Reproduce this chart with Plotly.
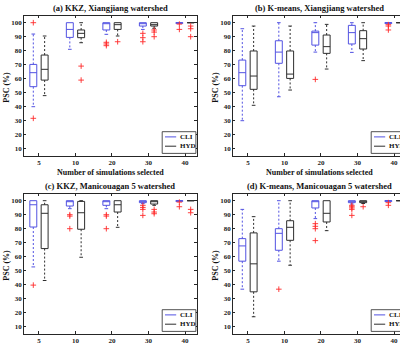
import plotly.graph_objects as go

# ---------------- data ----------------
groups = ["5", "10", "20", "30", "40"]
series_names = ["CLI", "HYD"]
titles = ["(a) KKZ, Xiangjiang watershed", "(b) K-means, Xiangjiang watershed",
          "(c) KKZ, Manicouagan 5 watershed", "(d) K-means, Manicouagan 5 watershed"]
x_title = "Number of simulations selected"
y_title = "PSC (%)"
y_ticks = [10, 20, 30, 40, 50, 60, 70, 80, 90, 100]

# Panel (a)
a_cli_lo = [40.0, 81.0, 91.7, 95.2, 99.5]
a_cli_q1 = [54.3, 89.5, 94.8, 97.6, 99.5]
a_cli_med = [64.3, 95.2, 100, 100, 100]
a_cli_q3 = [70.2, 100, 100, 100, 100]
a_cli_hi = [91.9, 100, 100, 100, 100]
a_cli_out = [[31.7, 100], [], [86.0, 84.8, 83.6], [92.4, 89.3, 86.4], [99.0, 95.2]]
a_hyd_lo = [47.9, 85.7, 90.5, 96.0, 100]
a_hyd_q1 = [59.0, 89.3, 95.2, 97.6, 100]
a_hyd_med = [66.7, 92.4, 98.6, 98.6, 100]
a_hyd_q3 = [76.9, 94.8, 100, 100, 100]
a_hyd_hi = [90.5, 100, 100, 100, 100]
a_hyd_out = [[], [69.0, 59.0], [86.4], [94.8, 93.3, 90.0], [97.6, 95.7, 90.0]]

# Panel (b)
b_cli_lo = [30.0, 47.1, 79.0, 78.8, 99.5]
b_cli_q1 = [55.0, 71.0, 84.0, 84.8, 99.5]
b_cli_med = [64.3, 79.0, 92.9, 92.9, 100]
b_cli_q3 = [73.3, 87.1, 94.0, 98.1, 100]
b_cli_hi = [95.7, 100, 100, 100, 100]
b_cli_out = [[], [], [59.5], [], [98.6, 97.6, 94.8]]
b_hyd_lo = [41.0, 51.9, 66.9, 72.9, 100]
b_hyd_q1 = [52.4, 60.2, 78.1, 81.2, 100]
b_hyd_med = [61.9, 63.3, 82.9, 88.6, 100]
b_hyd_q3 = [79.8, 79.8, 91.2, 94.3, 100]
b_hyd_hi = [97.6, 97.6, 98.8, 100, 100]
b_hyd_out = [[], [], [], [], []]

# Panel (c)
c_cli_lo = [52.7, 94.3, 94.3, 97.9, 99.5]
c_cli_q1 = [81.2, 96.2, 96.7, 98.6, 99.5]
c_cli_med = [97.1, 100, 100, 100, 100]
c_cli_q3 = [100, 100, 100, 100, 100]
c_cli_hi = [100, 100, 100, 100, 100]
c_cli_out = [[39.7], [90.0, 89.0, 80.0], [90.0, 89.0, 80.0], [96.7, 95.2, 93.8, 89.5], [99.0, 95.7]]
c_hyd_lo = [43.0, 59.6, 81.0, 96.7, 100]
c_hyd_q1 = [65.8, 79.6, 91.9, 97.6, 100]
c_hyd_med = [91.0, 91.4, 97.1, 100, 100]
c_hyd_q3 = [97.1, 99.5, 100, 100, 100]
c_hyd_hi = [100, 100, 100, 100, 100]
c_hyd_out = [[], [], [], [93.8, 91.9, 90.7], [93.8, 91.4]]

# Panel (d)
d_cli_lo = [36.8, 56.8, 87.2, 97.6, 99.5]
d_cli_q1 = [56.8, 64.6, 94.8, 98.6, 99.5]
d_cli_med = [67.7, 76.7, 100, 100, 100]
d_cli_q3 = [72.9, 80.0, 100, 100, 100]
d_cli_hi = [93.8, 100, 100, 100, 100]
d_cli_out = [[], [36.8], [83.6, 81.7, 80.0, 71.5], [96.7, 95.7, 94.8, 93.8, 89.5], [98.6, 96.7]]
d_hyd_lo = [17.1, 53.9, 78.6, 98.0, 100]
d_hyd_q1 = [34.9, 71.7, 84.8, 98.6, 100]
d_hyd_med = [54.9, 81.0, 91.0, 99.0, 100]
d_hyd_q3 = [77.0, 85.7, 100, 100, 100]
d_hyd_hi = [88.6, 100, 100, 100, 100]
d_hyd_out = [[], [], [], [95.7], []]

panels = [
    [(a_cli_lo, a_cli_q1, a_cli_med, a_cli_q3, a_cli_hi, a_cli_out),
     (a_hyd_lo, a_hyd_q1, a_hyd_med, a_hyd_q3, a_hyd_hi, a_hyd_out)],
    [(b_cli_lo, b_cli_q1, b_cli_med, b_cli_q3, b_cli_hi, b_cli_out),
     (b_hyd_lo, b_hyd_q1, b_hyd_med, b_hyd_q3, b_hyd_hi, b_hyd_out)],
    [(c_cli_lo, c_cli_q1, c_cli_med, c_cli_q3, c_cli_hi, c_cli_out),
     (c_hyd_lo, c_hyd_q1, c_hyd_med, c_hyd_q3, c_hyd_hi, c_hyd_out)],
    [(d_cli_lo, d_cli_q1, d_cli_med, d_cli_q3, d_cli_hi, d_cli_out),
     (d_hyd_lo, d_hyd_q1, d_hyd_med, d_hyd_q3, d_hyd_hi, d_hyd_out)],
]

# ---------------- style / layout ----------------
W, H = 400, 345
colors = ["#5252e2", "#2e2e2e"]
offsets = [-0.155, 0.155]
box_w = 0.19
cap_w = 0.1
axis_col = "#262626"
FONT = "Liberation Serif"

def fx(p):
    return p / W

def fy(p):
    return 1 - p / H

# panel pixel geometry: (left, right, top, bottom)
geo = [(24, 196.7, 15.7, 155.7), (233, 405.7, 15.7, 155.7),
       (24, 196.7, 193.7, 333.7), (233, 405.7, 193.7, 333.7)]
px_per_unit = (196.7 - 24) / (5.32 - 0.59)

fig = go.Figure()
shapes = []
annotations = []

for k, (panel, (L, R, T, B)) in enumerate(zip(panels, geo)):
    sx = "" if k == 0 else str(k + 1)
    xref, yref = "x" + sx, "y" + sx
    for s, (lo, q1, med, q3, hi, out) in enumerate(panel):
        pos = [i + 1 + offsets[s] for i in range(len(groups))]
        col = colors[s]
        fig.add_trace(go.Box(
            x=pos, q1=q1, median=med, q3=q3, lowerfence=q1, upperfence=q3,
            width=box_w, fillcolor="rgba(0,0,0,0)", line=dict(color=col, width=1),
            whiskerwidth=0, boxpoints=False, showlegend=False, hoverinfo="skip",
            xaxis=xref, yaxis=yref))
        wx, wy, cx, cy = [], [], [], []
        for p, a, b, c, d in zip(pos, lo, q1, q3, hi):
            if d > c:
                wx += [p, p, None]; wy += [c, d, None]
                cx += [p - cap_w / 2, p + cap_w / 2, None]; cy += [d, d, None]
            if a < b:
                wx += [p, p, None]; wy += [b, a, None]
                cx += [p - cap_w / 2, p + cap_w / 2, None]; cy += [a, a, None]
        fig.add_trace(go.Scatter(x=wx, y=wy, mode="lines",
                                 line=dict(color=col, width=1, dash="2px,2px"),
                                 showlegend=False, hoverinfo="skip", xaxis=xref, yaxis=yref))
        fig.add_trace(go.Scatter(x=cx, y=cy, mode="lines", line=dict(color=col, width=1),
                                 showlegend=False, hoverinfo="skip", xaxis=xref, yaxis=yref))
        ox, oy = [], []
        for p, vals in zip(pos, out):
            for v in vals:
                ox.append(p); oy.append(v)
        fig.add_trace(go.Scatter(x=ox, y=oy, mode="markers",
                                 marker=dict(symbol="cross-thin", size=4,
                                             line=dict(color="#ff2a2a", width=0.9)),
                                 showlegend=False, hoverinfo="skip", xaxis=xref, yaxis=yref))

    right_px = min(R, W)
    xr = [0.59, 0.59 + (right_px - L) / px_per_unit]
    common = dict(showline=True, linecolor=axis_col, linewidth=0.8, ticks="inside",
                  ticklen=2.5, tickwidth=0.8, tickcolor=axis_col, showgrid=False,
                  zeroline=False,
                  tickfont=dict(family=FONT, size=7, color="#1a1a1a", weight="bold"))
    fig.update_layout(**{
        "xaxis" + sx: dict(common, domain=[fx(L), fx(right_px)], range=xr, anchor=yref,
                           tickvals=[1, 2, 3, 4, 5], ticktext=groups, mirror="ticks"),
        "yaxis" + sx: dict(common, domain=[fy(B), fy(T)], range=[5, 105], anchor=xref,
                           tickvals=y_ticks, mirror=("ticks" if R <= W else False)),
    })

    cxp = (L + R) / 2
    annotations.append(dict(text=titles[k], x=fx(cxp), y=fy(T - 7.5), xref="paper", yref="paper",
                            showarrow=False, xanchor="center", yanchor="middle",
                            font=dict(family=FONT, size=8.5, color="#111", weight="bold")))
    annotations.append(dict(text=y_title, x=fx(L - 17), y=fy((T + B) / 2 + 2), xref="paper",
                            yref="paper", showarrow=False, textangle=-90,
                            xanchor="center", yanchor="middle",
                            font=dict(family=FONT, size=8, color="#111", weight="bold")))
    if k < 2:
        annotations.append(dict(text=x_title, x=fx(cxp), y=fy(B + 16.5), xref="paper", yref="paper",
                                showarrow=False, xanchor="center", yanchor="middle",
                                font=dict(family=FONT, size=8, color="#111", weight="bold")))
    # legend box
    shapes.append(dict(type="rect", xref="paper", yref="paper", x0=fx(R - 34.5), x1=fx(R - 0.8),
                       y0=fy(B - 2.3), y1=fy(B - 24), line=dict(color=axis_col, width=0.8),
                       fillcolor="white", layer="above"))
    for s, yy in enumerate([B - 18.8, B - 9.5]):
        shapes.append(dict(type="line", xref="paper", yref="paper", x0=fx(R - 31.7), x1=fx(R - 20.5),
                           y0=fy(yy), y1=fy(yy), line=dict(color=colors[s], width=1), layer="above"))
        annotations.append(dict(text=series_names[s], x=fx(R - 19), y=fy(yy), xref="paper",
                                yref="paper", showarrow=False, xanchor="left", yanchor="middle",
                                font=dict(family=FONT, size=7, color="#111", weight="bold")))

fig.update_layout(width=W, height=H, margin=dict(l=0, r=0, t=0, b=0),
                  paper_bgcolor="white", plot_bgcolor="white", boxmode="overlay",
                  shapes=shapes, annotations=annotations, showlegend=False)

fig.write_html("out.html")
